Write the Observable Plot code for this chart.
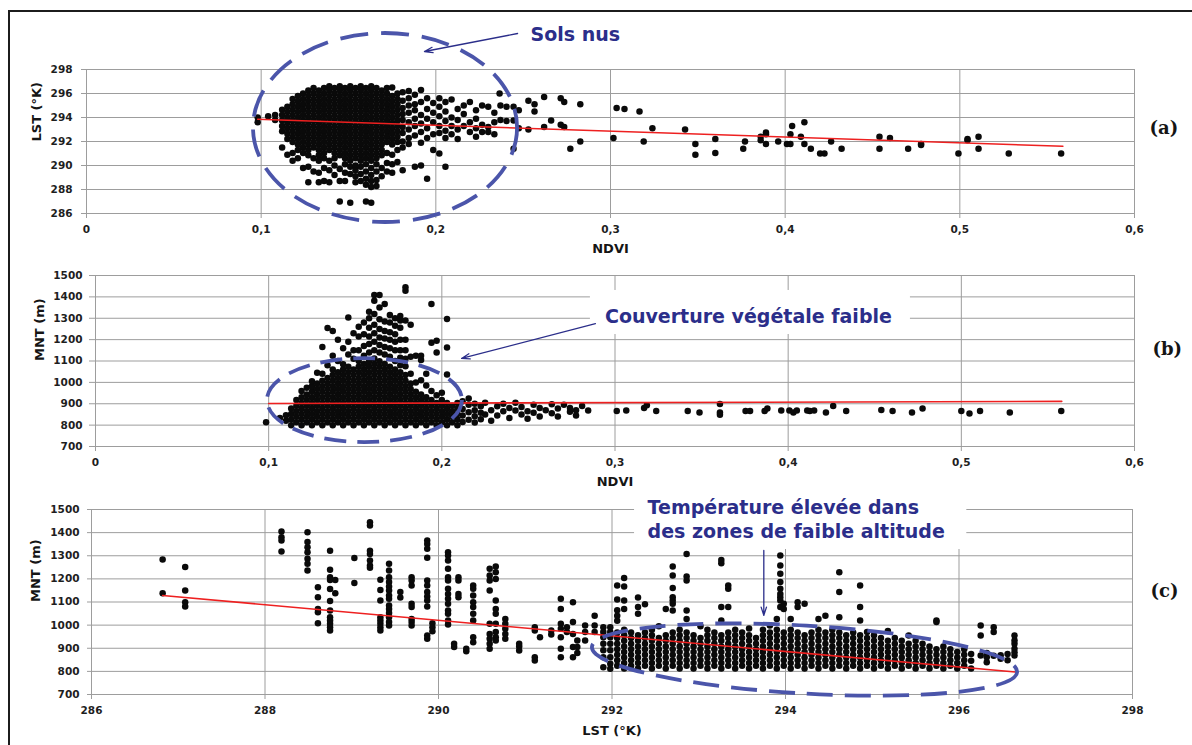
<!DOCTYPE html>
<html><head><meta charset="utf-8">
<script src="https://cdn.jsdelivr.net/npm/d3@7"></script>
<script src="https://cdn.jsdelivr.net/npm/@observablehq/plot@0.6"></script>
<style>
body{margin:0;background:#fff;}
#wrap{position:relative;width:1192px;height:745px;overflow:hidden;background:#fff;}
#frame{position:absolute;left:8px;top:10px;width:1300px;height:800px;border-left:2px solid #1c1c1c;border-top:2px solid #1c1c1c;}
</style></head><body>
<div id="wrap"><div id="frame"></div></div>
<script>
// ---------- ticks ----------
const ndviTicks = [0, 0.1, 0.2, 0.3, 0.4, 0.5, 0.6];
const lstTicks = [286, 288, 290, 292, 294, 296, 298];
const mntTicks = [700, 800, 900, 1000, 1100, 1200, 1300, 1400, 1500];

// ---------- (a) LST vs NDVI : [ndvi, [lst values]] ----------
const ndviLstCols = [
  [0.098, [294.0, 293.6]],
  [0.104, [294.1]],
  [0.108, [294.2, 293.8]],
  [0.112, [294.65, 294.2, 293.75, 293.3, 292.85, 291.5]],
  [0.115, [294.9, 294.45, 294.0, 293.55, 293.1, 292.65, 292.2, 290.9]],
  [0.118, [295.55, 295.1, 294.65, 294.2, 293.75, 293.3, 292.85, 292.4, 291.95, 291.05, 290.4]],
  [0.121, [295.8, 295.35, 294.9, 294.45, 294.0, 293.55, 293.1, 292.65, 292.2, 291.75, 291.3, 290.6]],
  [0.124, [296.0, 295.55, 295.1, 294.65, 294.2, 293.75, 293.3, 292.85, 292.4, 291.95, 291.5, 291.05, 289.8]],
  [0.127, [296.25, 295.8, 295.35, 294.9, 294.45, 294.0, 293.55, 293.1, 292.65, 292.2, 291.75, 291.3, 290.85, 289.9, 288.6]],
  [0.130, [296.45, 296.0, 295.55, 295.1, 294.65, 294.2, 293.75, 293.3, 292.85, 292.4, 291.95, 291.5, 290.6, 289.5]],
  [0.133, [296.25, 295.8, 295.35, 294.9, 294.45, 294.0, 293.55, 293.1, 292.65, 292.2, 291.75, 291.3, 290.85, 290.4, 289.4, 288.6]],
  [0.136, [296.45, 296.0, 295.55, 295.1, 294.65, 294.2, 293.75, 293.3, 292.85, 292.4, 291.95, 291.5, 291.05, 290.6, 289.8, 288.7]],
  [0.139, [296.6, 296.25, 295.8, 295.35, 294.9, 294.45, 294.0, 293.55, 293.1, 292.65, 292.2, 291.75, 291.3, 290.4, 289.6, 288.6]],
  [0.142, [296.45, 296.0, 295.55, 295.1, 294.65, 294.2, 293.75, 293.3, 292.85, 292.4, 291.95, 291.5, 291.05, 290.6, 290.0, 289.2]],
  [0.145, [296.6, 296.25, 295.8, 295.35, 294.9, 294.45, 294.0, 293.55, 293.1, 292.65, 292.2, 291.75, 291.3, 290.85, 289.7, 288.7, 287.0]],
  [0.148, [296.45, 296.0, 295.55, 295.1, 294.65, 294.2, 293.75, 293.3, 292.85, 292.4, 291.95, 291.5, 291.05, 290.6, 290.1, 289.4, 288.7]],
  [0.151, [296.6, 296.25, 295.8, 295.35, 294.9, 294.45, 294.0, 293.55, 293.1, 292.65, 292.2, 291.75, 291.3, 290.85, 290.4, 289.9, 289.3, 286.9]],
  [0.154, [296.45, 296.0, 295.55, 295.1, 294.65, 294.2, 293.75, 293.3, 292.85, 292.4, 291.95, 291.5, 291.05, 290.6, 290.0, 289.6, 289.1, 288.6]],
  [0.157, [296.6, 296.25, 295.8, 295.35, 294.9, 294.45, 294.0, 293.55, 293.1, 292.65, 292.2, 291.75, 291.3, 290.85, 290.4, 289.9, 289.3, 288.7]],
  [0.160, [296.45, 296.0, 295.55, 295.1, 294.65, 294.2, 293.75, 293.3, 292.85, 292.4, 291.95, 291.5, 291.05, 290.6, 290.1, 289.5, 288.9, 288.4, 287.0]],
  [0.163, [296.6, 296.25, 295.8, 295.35, 294.9, 294.45, 294.0, 293.55, 293.1, 292.65, 292.2, 291.75, 291.3, 290.85, 290.4, 289.8, 289.2, 288.7, 288.2, 286.9]],
  [0.166, [296.45, 296.0, 295.55, 295.1, 294.65, 294.2, 293.75, 293.3, 292.85, 292.4, 291.95, 291.5, 291.05, 290.6, 290.1, 289.5, 288.8, 288.3]],
  [0.169, [296.25, 295.8, 295.35, 294.9, 294.45, 294.0, 293.55, 293.1, 292.65, 292.2, 291.75, 291.3, 290.85, 289.8, 289.1]],
  [0.172, [296.45, 296.0, 295.55, 295.1, 294.65, 294.2, 293.75, 293.3, 292.85, 292.4, 291.95, 291.05, 290.2, 289.5]],
  [0.175, [296.5, 295.8, 295.35, 294.9, 294.45, 294.0, 293.55, 293.1, 292.65, 292.2, 291.75, 290.9, 290.1, 289.4]],
  [0.178, [296.0, 295.55, 295.1, 294.65, 294.2, 293.75, 293.3, 292.85, 292.4, 291.95, 291.3, 290.3]],
  [0.181, [296.1, 295.4, 294.8, 294.3, 293.8, 293.2, 292.7, 292.0, 291.5, 289.6]],
  [0.1845, [296.2, 295.6, 295.0, 294.4, 293.6, 293.0, 292.3, 291.8]],
  [0.188, [295.9, 295.1, 294.6, 293.9, 293.3, 292.5, 289.9]],
  [0.1915, [296.3, 295.3, 294.2, 293.5, 292.8, 291.9, 290.0]],
  [0.195, [295.6, 294.7, 293.9, 293.1, 292.3, 288.9]],
  [0.1985, [295.2, 294.4, 293.6, 292.6, 291.3]],
  [0.202, [295.6, 294.9, 294.1, 293.3, 292.7, 291.0]],
  [0.2055, [295.3, 294.5, 293.7, 292.9, 292.3, 289.9]],
  [0.209, [295.5, 294.0, 293.3, 292.6]],
  [0.2125, [294.7, 293.8, 293.0, 292.2]],
  [0.216, [295.0, 294.3, 293.3]],
  [0.2195, [295.3, 293.6, 292.8]],
  [0.223, [294.6, 293.9, 293.1, 292.4]],
  [0.2265, [295.0, 293.4, 292.8]],
  [0.230, [294.9, 293.2, 292.8]],
  [0.2335, [294.4, 293.6, 292.6]],
  [0.2365, [296.0]],
  [0.237, [295.0, 293.8]],
  [0.2405, [294.9, 293.7]],
  [0.2445, [294.9, 293.75, 291.4]],
  [0.2475, [294.6, 293.1]],
  [0.253, [295.4, 293.0]],
  [0.2565, [295.1, 294.5]],
  [0.262, [295.7, 293.2]],
  [0.266, [293.75]],
  [0.2715, [295.6, 293.4]],
  [0.2735, [295.3, 293.2]],
  [0.277, [291.4]],
  [0.2827, [295.1, 292.0]],
  [0.3017, [292.3]], [0.3035, [294.8]], [0.308, [294.7]], [0.3166, [294.5]],
  [0.319, [292.0]], [0.324, [293.1]], [0.3427, [293.0]], [0.3486, [291.8, 290.9]],
  [0.360, [292.2, 291.05]], [0.376, [291.4]], [0.377, [292.0]], [0.386, [292.4, 292.1]],
  [0.389, [292.75, 292.6, 291.8]], [0.396, [292.0]], [0.401, [291.8]], [0.403, [292.6, 291.8]],
  [0.404, [293.3]], [0.409, [292.4]], [0.411, [293.6, 291.8]], [0.4147, [291.4]],
  [0.42, [291.0]], [0.4225, [291.0]], [0.4263, [292.0]], [0.4323, [291.4]],
  [0.454, [292.4, 291.4]], [0.460, [292.3]], [0.4704, [291.4]], [0.4778, [291.7, 291.8]],
  [0.4992, [291.0]], [0.5044, [292.1, 292.2]], [0.5107, [292.4, 291.4]], [0.528, [291.0]], [0.558, [291.0]]
];

// ---------- (b) MNT vs NDVI : [ndvi, [mnt values]] ----------
const ndviMntCols = [
  [0.0985, [813]],
  [0.1065, [833]],
  [0.110, [820, 846]],
  [0.113, [800, 826, 852, 878]],
  [0.116, [813, 839, 865, 891, 917]],
  [0.119, [800, 826, 852, 878, 904, 930, 960]],
  [0.122, [813, 839, 865, 891, 917, 943, 975]],
  [0.125, [800, 826, 852, 878, 904, 930, 956, 982, 1005]],
  [0.128, [813, 839, 865, 891, 917, 943, 969, 995, 1045]],
  [0.131, [800, 826, 852, 878, 904, 930, 956, 982, 1008, 1040, 1165]],
  [0.134, [813, 839, 865, 891, 917, 943, 969, 995, 1021, 1080, 1254]],
  [0.137, [800, 826, 852, 878, 904, 930, 956, 982, 1008, 1034, 1060, 1125, 1240]],
  [0.140, [813, 839, 865, 891, 917, 943, 969, 995, 1021, 1047, 1100, 1200]],
  [0.143, [800, 826, 852, 878, 904, 930, 956, 982, 1008, 1034, 1060, 1085, 1160]],
  [0.146, [813, 839, 865, 891, 917, 943, 969, 995, 1021, 1047, 1073, 1130, 1190, 1304]],
  [0.149, [800, 826, 852, 878, 904, 930, 956, 982, 1008, 1034, 1060, 1110, 1150, 1230]],
  [0.152, [813, 839, 865, 891, 917, 943, 969, 995, 1021, 1047, 1073, 1100, 1150, 1215, 1260]],
  [0.155, [800, 826, 852, 878, 904, 930, 956, 982, 1008, 1034, 1060, 1086, 1125, 1170, 1225, 1280]],
  [0.158, [813, 839, 865, 891, 917, 943, 969, 995, 1021, 1047, 1073, 1099, 1140, 1180, 1215, 1255, 1300, 1330]],
  [0.161, [800, 826, 852, 878, 904, 930, 956, 982, 1008, 1034, 1060, 1086, 1112, 1150, 1190, 1230, 1270, 1320, 1382, 1409]],
  [0.164, [813, 839, 865, 891, 917, 943, 969, 995, 1021, 1047, 1073, 1099, 1140, 1175, 1210, 1250, 1295, 1350, 1409]],
  [0.167, [800, 826, 852, 878, 904, 930, 956, 982, 1008, 1034, 1060, 1086, 1130, 1165, 1205, 1240, 1285, 1367]],
  [0.170, [813, 839, 865, 891, 917, 943, 969, 995, 1021, 1047, 1073, 1120, 1160, 1200, 1235, 1280, 1315]],
  [0.173, [800, 826, 852, 878, 904, 930, 956, 982, 1008, 1034, 1060, 1100, 1150, 1190, 1225, 1265, 1300]],
  [0.176, [813, 839, 865, 891, 917, 943, 969, 995, 1021, 1047, 1080, 1115, 1150, 1200, 1255, 1290, 1310]],
  [0.179, [800, 826, 852, 878, 904, 930, 956, 982, 1008, 1034, 1075, 1110, 1150, 1200, 1290, 1429, 1445]],
  [0.182, [813, 839, 865, 891, 917, 943, 969, 995, 1040, 1120, 1270]],
  [0.185, [800, 826, 852, 878, 904, 930, 956, 1000, 1125]],
  [0.188, [813, 839, 865, 891, 917, 943, 1010, 1105, 1125]],
  [0.191, [800, 826, 852, 878, 904, 930, 985, 1040]],
  [0.194, [813, 839, 865, 891, 917, 960, 1185, 1367]],
  [0.197, [800, 826, 852, 878, 904, 940, 1140, 1195]],
  [0.200, [813, 839, 865, 891, 917, 951]],
  [0.203, [800, 826, 852, 878, 904, 1037, 1163, 1296]],
  [0.206, [813, 839, 865, 891]],
  [0.209, [800, 826, 852, 878, 904]],
  [0.212, [815, 845, 875, 912]],
  [0.2155, [825, 860, 895, 924]],
  [0.219, [812, 842, 870, 900]],
  [0.2225, [828, 858, 888]],
  [0.225, [905, 850]], [0.2285, [870, 820]], [0.232, [888, 845]], [0.2355, [865, 900]],
  [0.239, [833, 880]], [0.2425, [868, 905]], [0.246, [850, 885]], [0.2495, [865, 830]],
  [0.253, [895, 858]], [0.2565, [880, 840]], [0.260, [870]], [0.2635, [898, 855]],
  [0.267, [878, 840]], [0.2705, [895]], [0.274, [862, 880]], [0.2775, [870, 845]],
  [0.281, [890]], [0.2845, [868]],
  [0.301, [866]], [0.3065, [868]], [0.3168, [880]], [0.3184, [893]], [0.3238, [866]],
  [0.342, [866]], [0.3488, [859]], [0.3606, [899, 859, 848]], [0.3754, [866]], [0.378, [866]],
  [0.3864, [866]], [0.388, [878]], [0.396, [868]], [0.4007, [868]], [0.403, [859]],
  [0.405, [868]], [0.411, [868]], [0.4125, [866]], [0.415, [868]], [0.4218, [859]],
  [0.426, [889]], [0.4335, [866]], [0.4538, [871]], [0.4603, [866]], [0.4715, [859]],
  [0.4776, [878]], [0.500, [866]], [0.5047, [854]], [0.5108, [866]], [0.528, [859]], [0.5577, [866]]
];

// ---------- (c) MNT vs LST : [lst, [mnt values]] ----------
const lstMntCols = [
  [286.82, [1284, 1138]],
  [287.08, [1251, 1150, 1099, 1081]],
  [288.19, [1405, 1380, 1366, 1318]],
  [288.49, [1402, 1359, 1337, 1315, 1287, 1265, 1236]],
  [288.61, [1164, 1121, 1070, 1056, 1008]],
  [288.75, [1322, 1240, 1207, 1195, 1156, 1104, 1063, 1034, 1020, 1006, 991, 977]],
  [288.81, [1195, 1138]],
  [289.03, [1290, 1182]],
  [289.21, [1445, 1431, 1322, 1308, 1280, 1258, 1248]],
  [289.33, [1196, 1152, 1106, 1034, 1020, 1006, 991, 977]],
  [289.43, [1265, 1236, 1207, 1186, 1167, 1150, 1128, 1114, 1085, 1070, 1052, 1034, 1013, 998]],
  [289.56, [1143, 1119]],
  [289.69, [1207, 1193, 1171, 1092, 1078, 1027, 1013, 998]],
  [289.87, [1366, 1351, 1330, 1291, 1193, 1171, 1143, 1124, 1106, 1081, 955, 941]],
  [289.93, [1008, 991, 974]],
  [290.11, [1315, 1301, 1280, 1244, 1207, 1193, 1157, 1135, 1114, 1092, 1063, 1049, 1020, 1003]],
  [290.18, [919, 905]],
  [290.23, [1207, 1193, 1135, 1121]],
  [290.32, [898, 887]],
  [290.40, [1171, 1157, 1128, 1099, 1078, 1049, 1020, 948, 926]],
  [290.59, [1244, 1215, 1193, 1150, 1006, 962, 941, 919, 898]],
  [290.66, [1254, 1229, 1200, 1106, 1070, 1049, 1006, 970, 948, 934]],
  [290.77, [1027, 1006, 984, 962, 941]],
  [290.93, [919, 908, 890]],
  [291.11, [991, 977, 861, 847]],
  [291.17, [948]],
  [291.30, [977, 959]],
  [291.41, [1114, 1070, 1006, 984, 948, 898, 861]],
  [291.48, [991, 970]],
  [291.55, [1099, 1013, 962, 905, 861]],
  [291.60, [934, 905, 880]],
  [291.69, [998, 970, 934]],
  [291.80, [1041, 998, 970]],
  [291.90, [991, 970, 948, 919, 891, 861, 818]],
  [291.98, [811, 833, 861, 891, 919, 948, 970, 991]],
  [292.06, [824, 848, 872, 896, 920, 944, 968, 1019, 1041, 1064, 1111, 1171]],
  [292.14, [812, 836, 860, 884, 908, 932, 956, 980, 1070, 1106, 1167, 1204]],
  [292.22, [824, 848, 872, 896, 920, 944, 968]],
  [292.30, [812, 836, 860, 884, 908, 932, 956, 1049, 1078, 1120]],
  [292.38, [824, 848, 872, 896, 920, 944, 968, 1090]],
  [292.46, [812, 836, 860, 884, 908, 932, 956, 980]],
  [292.54, [824, 848, 872, 896, 920, 944, 995]],
  [292.62, [812, 836, 860, 884, 908, 932, 956, 1070]],
  [292.70, [824, 848, 872, 896, 920, 944, 968, 1063, 1092, 1106, 1121, 1161, 1215, 1254]],
  [292.78, [812, 836, 860, 884, 908, 932, 956, 980]],
  [292.86, [824, 848, 872, 896, 920, 944, 968, 1027, 1063, 1193, 1210, 1308]],
  [292.94, [812, 836, 860, 884, 908, 932, 956]],
  [293.02, [824, 848, 872, 896, 920, 944, 995]],
  [293.10, [812, 836, 860, 884, 908, 932, 956, 980]],
  [293.18, [824, 848, 872, 896, 920, 944, 968]],
  [293.26, [812, 836, 860, 884, 908, 932, 956, 1020, 1078, 1268, 1282]],
  [293.34, [824, 848, 872, 896, 920, 944, 968, 1078, 1157, 1171]],
  [293.42, [812, 836, 860, 884, 908, 932, 956, 980]],
  [293.50, [824, 848, 872, 896, 920, 944, 968]],
  [293.58, [812, 836, 860, 884, 908, 932, 956, 985]],
  [293.66, [824, 848, 872, 896, 920, 944]],
  [293.74, [812, 836, 860, 884, 908, 932, 956, 980]],
  [293.82, [824, 848, 872, 896, 920, 944, 968, 998]],
  [293.90, [812, 836, 860, 884, 908, 932, 956, 980, 1027]],
  [293.94, [1078, 1106, 1121, 1135, 1157, 1186, 1222, 1258, 1301]],
  [293.98, [824, 848, 872, 896, 920, 944, 968, 1070, 1092]],
  [294.06, [812, 836, 860, 884, 908, 932, 956, 980, 1027]],
  [294.14, [824, 848, 872, 896, 920, 944, 968, 1078, 1099]],
  [294.22, [812, 836, 860, 884, 908, 932, 956, 1092]],
  [294.30, [824, 848, 872, 896, 920, 944, 968]],
  [294.38, [812, 836, 860, 884, 908, 932, 956, 980, 1027]],
  [294.46, [824, 848, 872, 896, 920, 944, 968, 1041]],
  [294.54, [812, 836, 860, 884, 908, 932, 956, 980]],
  [294.62, [824, 848, 872, 896, 920, 944, 968, 1034, 1143, 1229]],
  [294.70, [812, 836, 860, 884, 908, 932, 956]],
  [294.78, [824, 848, 872, 896, 920, 944, 968]],
  [294.86, [812, 836, 860, 884, 908, 932, 956, 1020, 1078, 1171]],
  [294.94, [824, 848, 872, 896, 920, 944, 970]],
  [295.02, [812, 836, 860, 884, 908, 932, 956]],
  [295.10, [824, 848, 872, 896, 920, 944]],
  [295.18, [812, 836, 860, 884, 908, 932, 975]],
  [295.26, [824, 848, 872, 896, 920, 944]],
  [295.34, [812, 836, 860, 884, 908, 932]],
  [295.42, [824, 848, 872, 896, 920, 955]],
  [295.50, [812, 836, 860, 884, 908, 932]],
  [295.58, [824, 848, 872, 896, 920]],
  [295.66, [812, 836, 860, 884, 908]],
  [295.74, [824, 848, 872, 896, 1013, 1020]],
  [295.82, [812, 836, 860, 884, 908]],
  [295.90, [824, 848, 872, 896]],
  [295.98, [812, 836, 860, 884]],
  [296.06, [824, 848, 872, 896]],
  [296.14, [812, 846, 875]],
  [296.25, [869, 955, 998]],
  [296.32, [840, 861, 880]],
  [296.40, [868, 970, 991]],
  [296.48, [855, 870]],
  [296.56, [848, 875]],
  [296.64, [869, 883, 898, 919, 934, 955]]
];

// ---------- regression lines (end points) ----------
const fitLstNdvi = [[0.098, 293.85], [0.559, 291.6]];
const fitMntNdvi = [[0.1, 901], [0.558, 911]];
const fitMntLst = [[286.82, 1128], [296.65, 797]];

// ---------- annotations (data units) ----------
const ellipseA = {cx: 0.1712, cy: 293.125, rx: 0.0756, ry: 7.875, angle: 0};
const ellipseB = {cx: 0.1556, cy: 915, rx: 0.0563, ry: 196.5, angle: 0};
const ellipseC = {cx: 294.225, cy: 849, rx: 2.455, ry: 147, angle: 3.37};
const noteA = [{x: 0.2542, y: 300.97, text: "Sols nus"}];
const noteB = [{x: 0.2942, y: 1313, text: "Couverture végétale faible"}];
const noteC = [{x: 292.41, y: 1461, text: "Température élevée dans\ndes zones de faible altitude"}];
const arrowA = [{x1: 0.2468, y1: 301.0, x2: 0.1935, y2: 299.5}];
const arrowB = [{x1: 0.2887, y1: 1275, x2: 0.2114, y2: 1112}];
const arrowC = [{x1: 293.75, y1: 1323, x2: 293.75, y2: 1042}];
const boxB = [{x1: 0.2858, x2: 0.4706, y1: 1224, y2: 1430}];
const boxC = [{x1: 292.26, x2: 296.09, y1: 1327, y2: 1591}];

// ---------- styling ----------
const GRID = "#9d9d9d", NAVY = "#2b2e8a", ELL = "#4b55aa", RED = "#ee2020", DOT = "#0a0a0a";
const FONT = "'DejaVu Sans', Verdana, sans-serif";
const fmtComma = d => String(d).replace(".", ",");
const fmtPlain = d => String(d);
const flat = cols => cols.flatMap(([x, ys]) => ys.map(y => ({x, y})));

function ellipseMark(e, dash) {
  return (index, scales) => {
    const cx = scales.x(e.cx), cy = scales.y(e.cy);
    const rx = Math.abs(scales.x(e.cx + e.rx) - cx);
    const ry = Math.abs(scales.y(e.cy + e.ry) - cy);
    return d3.create("svg:ellipse")
      .attr("cx", cx).attr("cy", cy).attr("rx", rx).attr("ry", ry)
      .attr("transform", `rotate(${e.angle} ${cx} ${cy})`)
      .attr("fill", "none").attr("stroke", ELL).attr("stroke-width", 3.8)
      .attr("stroke-dasharray", dash).node();
  };
}

function panel(cfg) {
  const marks = [
    Plot.gridY(cfg.yTicks, {stroke: GRID, strokeOpacity: 1}),
    Plot.gridX(cfg.xTicks, {stroke: GRID, strokeOpacity: 1}),
    Plot.axisY(cfg.yTicks, {tickSize: cfg.yTickSize, tickPadding: cfg.yTickPad, stroke: GRID, fill: "#1e1e1e", tickFormat: fmtPlain, label: null}),
    Plot.axisX(cfg.xTicks, {tickSize: 5, tickPadding: 7, stroke: GRID, fill: "#1e1e1e", tickFormat: cfg.fmt, label: null}),
  ];
  if (cfg.box) marks.push(Plot.rect(cfg.box, {x1: "x1", x2: "x2", y1: "y1", y2: "y2", fill: "white"}));
  marks.push(
    Plot.dot(flat(cfg.cols), {x: "x", y: "y", r: 3.25, fill: DOT}),
    Plot.line(cfg.fit, {x: d => d[0], y: d => d[1], stroke: RED, strokeWidth: 1.6}),
    ellipseMark(cfg.ellipse, cfg.dash),
    Plot.arrow(cfg.arrow, {x1: "x1", y1: "y1", x2: "x2", y2: "y2", stroke: NAVY, strokeWidth: 1.3, headLength: 10, headAngle: 36, inset: 0}),
    Plot.text(cfg.note, {x: "x", y: "y", text: "text", textAnchor: "start", fill: NAVY, fontSize: 19, fontWeight: "bold", lineHeight: 1.25, fontFamily: FONT}),
    Plot.text([cfg.xLabel], {text: d => d, frameAnchor: "bottom", dy: cfg.xLabelDy, fontSize: 13, fontWeight: "bold", fill: "#151515"}),
    Plot.text([cfg.yLabel], {text: d => d, frameAnchor: "left", dx: cfg.yLabelDx, rotate: -90, fontSize: 13, fontWeight: "bold", fill: "#151515"}),
    Plot.text([cfg.tag], {text: d => d, frameAnchor: "right", dx: cfg.tagDx, dy: cfg.tagDy, textAnchor: "start", fontSize: 18, fontWeight: "bold", fill: "#151515", fontFamily: "'DejaVu Serif', serif"})
  );
  const svg = Plot.plot({
    width: 1192, height: cfg.height,
    marginTop: cfg.mt, marginBottom: cfg.mb, marginLeft: cfg.ml, marginRight: cfg.mr,
    style: `background:transparent;overflow:visible;font-family:${FONT};font-size:10.5px;font-weight:bold;color:#1e1e1e;`,
    x: {domain: cfg.xDomain},
    y: {domain: cfg.yDomain},
    marks
  });
  svg.style.position = "absolute";
  svg.style.left = "0px";
  svg.style.top = cfg.top + "px";
  document.getElementById("wrap").appendChild(svg);
}

panel({
  top: 0, height: 265, mt: 69, mb: 52, ml: 86, mr: 58,
  xDomain: [0, 0.6], yDomain: [286, 298], xTicks: ndviTicks, yTicks: lstTicks, fmt: fmtComma,
  yTickSize: 5, yTickPad: 9,
  cols: ndviLstCols, fit: fitLstNdvi, ellipse: ellipseA, dash: "28 13",
  arrow: arrowA, note: noteA, box: null,
  xLabel: "NDVI", xLabelDy: 39, yLabel: "LST (°K)", yLabelDx: -50,
  tag: "(a)", tagDx: 15, tagDy: -13
});
panel({
  top: 262, height: 236, mt: 13, mb: 52, ml: 95, mr: 58,
  xDomain: [0, 0.6], yDomain: [700, 1500], xTicks: ndviTicks, yTicks: mntTicks, fmt: fmtComma,
  yTickSize: 6, yTickPad: 7,
  cols: ndviMntCols, fit: fitMntNdvi, ellipse: ellipseB, dash: "22 11",
  arrow: arrowB, note: noteB, box: boxB,
  xLabel: "NDVI", xLabelDy: 39, yLabel: "MNT (m)", yLabelDx: -56,
  tag: "(b)", tagDx: 18, tagDy: -12
});
panel({
  top: 488, height: 257, mt: 21, mb: 51, ml: 91, mr: 60,
  xDomain: [286, 298], yDomain: [700, 1500], xTicks: lstTicks, yTicks: mntTicks, fmt: fmtPlain,
  yTickSize: 4, yTickPad: 8,
  cols: lstMntCols, fit: fitMntLst, ellipse: ellipseC, dash: "26 12",
  arrow: arrowC, note: noteC, box: boxC,
  xLabel: "LST (°K)", xLabelDy: 40, yLabel: "MNT (m)", yLabelDx: -56,
  tag: "(c)", tagDx: 18, tagDy: -11
});
</script>
</body></html>
